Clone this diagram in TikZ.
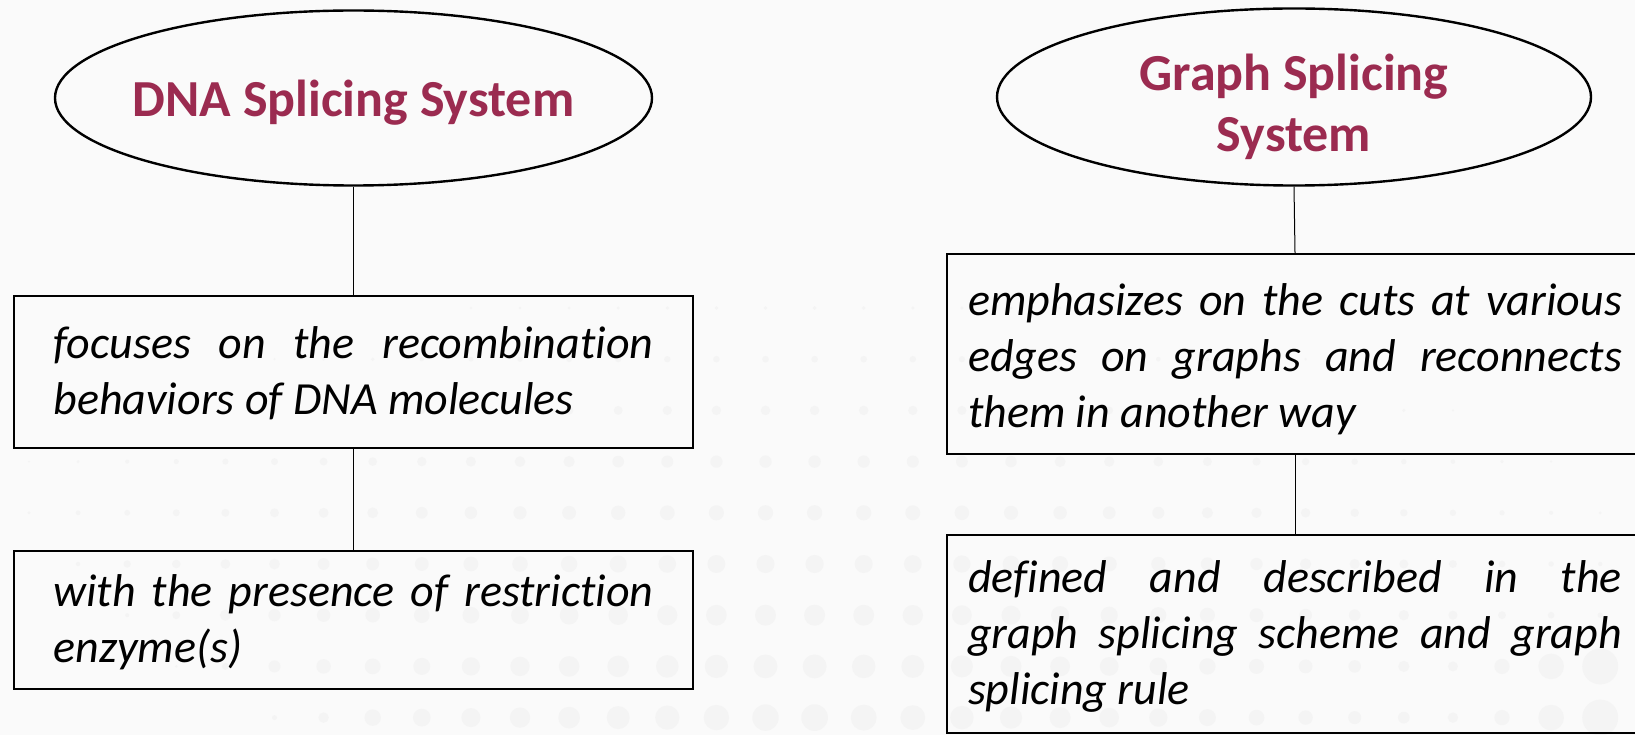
\documentclass[tikz,border=0pt]{standalone}
\usepackage{fontspec}
\setmainfont{Carlito}[Ligatures=NoCommon]
\usetikzlibrary{shapes.geometric}
\definecolor{pagebg}{HTML}{FAFAFA}
\definecolor{dotgrey}{HTML}{F4F4F4}
\definecolor{titlered}{HTML}{9B2B50}

% justified paragraph with forced line breaks, no hyphenation, optional top padding
\newcommand{\boxtext}[3][0pt]{\parbox{#2}{\hyphenpenalty=10000\tolerance=10000\vspace*{#1}\strut #3\strut}}

\begin{document}
\begin{tikzpicture}[x=1pt,y=-1pt,
  oval/.style={ellipse,draw,line width=2.4pt,minimum height=175pt,inner xsep=-60pt,inner ysep=0pt,
     font=\fontsize{52}{61}\selectfont\bfseries,text=titlered,align=center},
  textbox/.style={rectangle,draw,line width=2.4pt,inner sep=0pt,
     font=\fontsize{46}{56}\selectfont\itshape},
  link/.style={line width=1pt}]

\fill[pagebg] (0,0) rectangle (1635,735);
\useasboundingbox (0,0) rectangle (1635,735);

% faint halftone dot field, densest towards the bottom centre and bottom right
\foreach \i in {0,...,32}{
  \foreach \j in {0,...,8}{
    \pgfmathsetmacro{\px}{29+49.1*\i}
    \pgfmathsetmacro{\py}{308+51.2*\j}
    \pgfmathsetmacro{\dd}{100*veclen((\px-800)/208,(\py-740)/100)}
    \pgfmathsetmacro{\ra}{max(0,14-0.028*\dd)}
    \pgfmathsetmacro{\rb}{(\py>650)*18*min(1,max(0,(\px-1430)/170))}
    \pgfmathsetmacro{\fa}{min(1,max(0,(\px-(\py-580)*1.6)/150))}
    \pgfmathsetmacro{\dr}{max(\ra,\rb)*\fa}
    \ifdim\dr pt>1pt \fill[dotgrey] (\px,\py) circle[radius=\dr pt]; \fi
  }
}

% headings
\node[oval,minimum width=597pt,text depth=-3pt] (dna) at (353.5,98) {DNA Splicing System};
\node[oval,minimum width=594pt] (gss) at (1294,97) {\rule{0pt}{56pt}Graph Splicing\\System};

% left column
\node[textbox,minimum width=679pt,minimum height=152pt] (b1) at (353.5,372)
  {\boxtext[7pt]{600pt}{focuses on the recombination\linebreak behaviors of DNA molecules}};
\node[textbox,minimum width=679pt,minimum height=138pt] (b2) at (353.5,620)
  {\boxtext[6pt]{600pt}{with the presence of restriction\linebreak enzyme(s)}};

% right column
\node[textbox,minimum width=696pt,minimum height=200pt] (b3) at (1295,354)
  {\boxtext[12pt]{654pt}{emphasizes on the cuts at various\linebreak edges on graphs and reconnects\linebreak them in another way}};
\node[textbox,minimum width=696pt,minimum height=198pt] (b4) at (1295,634)
  {\boxtext[6pt]{654pt}{defined and described in the\linebreak graph splicing scheme and graph\linebreak splicing rule}};

% connectors
\draw[link] (dna.south) -- (b1.north);
\draw[link] (b1.south) -- (b2.north);
\draw[link] (gss.south) -- (b3.north);
\draw[link] (b3.south) -- (b4.north);
\end{tikzpicture}
\end{document}
